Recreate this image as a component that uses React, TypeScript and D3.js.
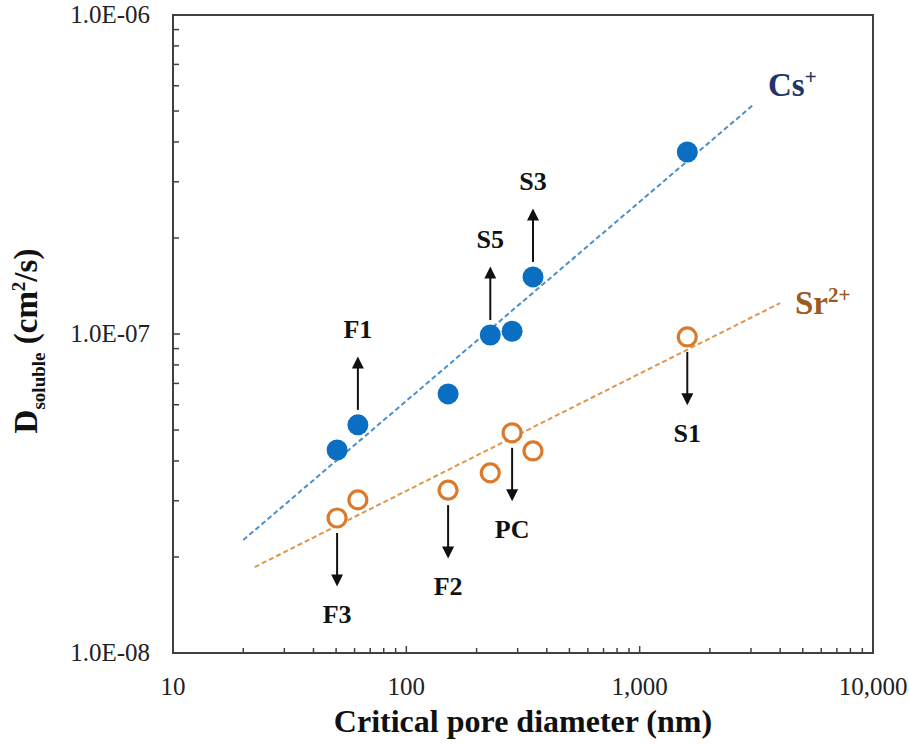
import React from 'react';
import * as d3 from 'd3';

// pore diameters (nm) of the seven samples
const samples = ['F3', 'F1', 'F2', 'S5', 'PC', 'S3', 'S1'];
const poreDiameter = [50.5, 62, 151, 229, 284, 349, 1600];
const csValues = [4.33e-8, 5.19e-8, 6.49e-8, 9.93e-8, 1.02e-7, 1.51e-7, 3.72e-7];
const srValues = [2.65e-8, 3.02e-8, 3.24e-8, 3.67e-8, 4.9e-8, 4.3e-8, 9.79e-8];
// which series each sample label points from, and which way
const labelSeries = ['Sr', 'Cs', 'Sr', 'Cs', 'Sr', 'Cs', 'Sr'];
const labelDir = ['down', 'up', 'down', 'up', 'down', 'up', 'down'];

// trend line end points
const csTrendX = [20, 3060];
const csTrendY = [2.26e-8, 5.22e-7];
const srTrendX = [22.4, 4000];
const srTrendY = [1.86e-8, 1.25e-7];

const xTickLabels = [10, 100, 1000, 10000];
const yTickLabels = [1e-8, 1e-7, 1e-6];

const W = 909;
const H = 746;
const margin = { top: 15, right: 36, bottom: 93, left: 173 };
const serif = '"Liberation Serif", "Times New Roman", serif';

const fmtY = (v: number) => {
  const e = Math.round(Math.log10(v));
  const sign = e < 0 ? '-' : '+';
  const abs = Math.abs(e);
  return '1.0E' + sign + (abs < 10 ? '0' + abs : abs);
};

const App = () => {
  const x = d3.scaleLog().domain([10, 10000]).range([margin.left, W - margin.right]);
  const y = d3.scaleLog().domain([1e-8, 1e-6]).range([H - margin.bottom, margin.top]);
  const x0 = x.range()[0], x1 = x.range()[1];
  const yb = y.range()[0], yt = y.range()[1];

  const line = d3.line<[number, number]>()
    .x(d => x(d[0]))
    .y(d => y(d[1]));

  const isMajor = (v: number) => Math.abs(Math.log10(v) - Math.round(Math.log10(v))) < 1e-6;

  const xTicks = x.ticks();
  const yTicks = y.ticks();

  return (
    <svg width={W} height={H} style={{ position: 'absolute', left: 0, top: 0, background: '#fff' }}
      fontFamily={serif}>
      <defs>
        <marker id="arrowHead" viewBox="0 0 10 10" refX="8" refY="5" markerWidth="6.5" markerHeight="6"
          orient="auto" markerUnits="strokeWidth">
          <path d="M0,0 L10,5 L0,10 z" fill="#111" />
        </marker>
      </defs>

      {/* ticks */}
      {xTicks.map((t, i) => (
        <line key={'xt' + i} x1={x(t)} x2={x(t)} y1={yb} y2={yb - (isMajor(t) ? 7 : 5)}
          stroke="#404040" strokeWidth={1.5} />
      ))}
      {yTicks.map((t, i) => (
        <line key={'yt' + i} x1={x0} x2={x0 + (isMajor(t) ? 7 : 6)} y1={y(t)} y2={y(t)}
          stroke="#404040" strokeWidth={1.5} />
      ))}

      {/* frame */}
      <rect x={x0} y={yt} width={x1 - x0} height={yb - yt} fill="none" stroke="#404040" strokeWidth={2} />

      {/* tick labels */}
      {xTickLabels.map(t => (
        <text key={'xl' + t} x={x(t)} y={yb + 42} textAnchor="middle" fontSize={25} fill="#222">
          {d3.format(',')(t)}
        </text>
      ))}
      {yTickLabels.map(t => (
        <text key={'yl' + t} x={x0 - 23} y={y(t) + 8} textAnchor="end" fontSize={25} fill="#222">
          {fmtY(t)}
        </text>
      ))}

      {/* axis titles */}
      <text x={(x0 + x1) / 2} y={H - 14} textAnchor="middle" fontSize={32} fontWeight="bold" fill="#111">
        Critical pore diameter (nm)
      </text>
      <text transform={`translate(37,${(yt + yb) / 2 + 7}) rotate(-90)`} textAnchor="middle"
        fontSize={33} fontWeight="bold" fill="#111">
        D<tspan fontSize={19} dy={8}>soluble</tspan>
        <tspan dy={-8}> (cm</tspan>
        <tspan fontSize={19} dy={-12}>2</tspan>
        <tspan dy={12}>/s)</tspan>
      </text>

      {/* trend lines */}
      <path d={line(csTrendX.map((v, i) => [v, csTrendY[i]]) as [number, number][]) || ''}
        fill="none" stroke="#4A8FCC" strokeWidth={2} strokeDasharray="5,3" />
      <path d={line(srTrendX.map((v, i) => [v, srTrendY[i]]) as [number, number][]) || ''}
        fill="none" stroke="#E0954C" strokeWidth={2} strokeDasharray="5,3" />

      {/* points */}
      {poreDiameter.map((d, i) => (
        <circle key={'cs' + i} cx={x(d)} cy={y(csValues[i])} r={10.5} fill="#0A6FC2" />
      ))}
      {poreDiameter.map((d, i) => (
        <circle key={'sr' + i} cx={x(d)} cy={y(srValues[i])} r={9} fill="#fff"
          stroke="#DC7A2C" strokeWidth={3.2} />
      ))}

      {/* sample labels with arrows */}
      {samples.map((s, i) => {
        const px = x(poreDiameter[i]);
        const py = y(labelSeries[i] === 'Cs' ? csValues[i] : srValues[i]);
        const sgn = labelDir[i] === 'up' ? -1 : 1;
        const a0 = py + sgn * 15;
        const a1 = a0 + sgn * 55;
        const ly = a1 + sgn * 26;
        return (
          <g key={'lab' + s}>
            <line x1={px} x2={px} y1={a0} y2={a1 - sgn * 4} stroke="#111" strokeWidth={2} markerEnd="url(#arrowHead)" />
            <text x={px} y={ly + 9} textAnchor="middle" fontSize={26} fontWeight="bold" fill="#111">{s}</text>
          </g>
        );
      })}

      {/* series labels */}
      <text x={768} y={96} fontSize={33} fontWeight="bold" fill="#1F3468">
        Cs<tspan fontSize={21} dy={-12}>+</tspan>
      </text>
      <text x={795} y={314} fontSize={33} fontWeight="bold" fill="#9C5A1E">
        Sr<tspan fontSize={21} dy={-12}>2+</tspan>
      </text>
    </svg>
  );
};

export default App;
